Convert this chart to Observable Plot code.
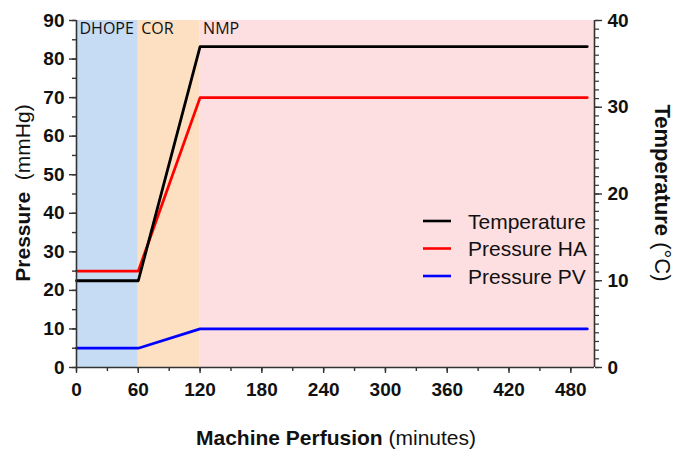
<!DOCTYPE html>
<html>
<head>
<meta charset="utf-8">
<script src="https://cdn.jsdelivr.net/npm/d3@7"></script>
<script src="https://cdn.jsdelivr.net/npm/@observablehq/plot@0.6"></script>
<style>
  html, body { margin: 0; padding: 0; background: #fff; }
</style>
</head>
<body>
<div id="chart"></div>
<script>
// ---- data ----
const time = [0, 60, 120, 496];
const temperature = [10, 10, 37, 37];   // °C (right axis)
const pressureHA = [25, 25, 70, 70];    // mmHg
const pressurePV = [5, 5, 10, 10];      // mmHg

const phaseNames = ["DHOPE", "COR", "NMP"];
const phaseStart = [0, 60, 120];
const phaseEnd = [60, 120, 503];
const phaseColors = ["#c6dcf5", "#fde0c1", "#fddee1"];

const xTicks = [0, 60, 120, 180, 240, 300, 360, 420, 480];
const yTicks = [0, 10, 20, 30, 40, 50, 60, 70, 80, 90];
const tempTicks = [0, 10, 20, 30, 40];

const seriesNames = ["Temperature", "Pressure HA", "Pressure PV"];
const seriesColors = ["#000000", "#ff0000", "#0000ff"];

const xMax = 503, yMax = 90, tMax = 40;
const t2y = t => t * yMax / tMax;

const phases = phaseNames.map((name, i) => ({name, start: phaseStart[i], end: phaseEnd[i], color: phaseColors[i]}));
const rows = time.map((t, i) => ({t, temp: t2y(temperature[i]), ha: pressureHA[i], pv: pressurePV[i]}));

const tickFont = {fontSize: 19, fontWeight: "bold", fill: "#111"};
const axisColor = "#333";

const chart = Plot.plot({
  width: 676,
  height: 450,
  marginLeft: 76,
  marginRight: 82,
  marginTop: 20,
  marginBottom: 83,
  style: {fontFamily: "'Liberation Sans', Arial, sans-serif", background: "#fff", overflow: "visible"},
  x: {domain: [0, xMax]},
  y: {domain: [0, yMax]},
  color: {type: "identity"},
  marks: [
    Plot.rect(phases, {x1: "start", x2: "end", y1: 0, y2: yMax, fill: "color"}),
    Plot.text(phases, {x: "start", y: yMax, text: "name", textAnchor: "start", lineAnchor: "top", dx: 3, dy: 2,
      fontFamily: "'Open Sans', 'Noto Sans', sans-serif", fontSize: 16, fill: "#111"}),
    Plot.line(rows, {x: "t", y: "pv", stroke: seriesColors[2], strokeWidth: 2.8}),
    Plot.line(rows, {x: "t", y: "ha", stroke: seriesColors[1], strokeWidth: 2.8}),
    Plot.line(rows, {x: "t", y: "temp", stroke: seriesColors[0], strokeWidth: 2.8}),
    // axis lines
    Plot.ruleX([0], {stroke: axisColor, strokeWidth: 1.6}),
    Plot.ruleX([xMax], {stroke: axisColor, strokeWidth: 1.6}),
    Plot.ruleY([0], {stroke: axisColor, strokeWidth: 1.6}),
    // x axis
    Plot.axisX({ticks: d3.range(0, xMax, 30), tickSize: 4, tickFormat: () => "", label: null, stroke: axisColor, strokeWidth: 1.4}),
    Plot.axisX({ticks: xTicks, tickSize: 6, tickPadding: 9, label: null, stroke: axisColor, strokeWidth: 1.4, ...tickFont}),
    // left y axis
    Plot.axisY({ticks: d3.range(0, yMax + 1, 5), tickSize: 4, tickFormat: () => "", label: null, stroke: axisColor, strokeWidth: 1.4}),
    Plot.axisY({ticks: yTicks, tickSize: 7, tickPadding: 5, label: null, stroke: axisColor, strokeWidth: 1.4, ...tickFont}),
    // right y axis (temperature)
    Plot.axisY({anchor: "right", ticks: d3.range(0, tMax + 1, 1).map(t2y), tickSize: 4, tickFormat: () => "", label: null, stroke: axisColor, strokeWidth: 1.2}),
    Plot.axisY({anchor: "right", ticks: tempTicks.map(t2y), tickSize: 7, tickPadding: 6, tickFormat: d => String(Math.round(d * tMax / yMax)), label: null, stroke: axisColor, strokeWidth: 1.4, ...tickFont})
  ]
});

document.getElementById("chart").appendChild(chart);

// ---- titles and legend ----
const svg = d3.select(chart);
const ff = "'Liberation Sans', Arial, sans-serif";

function title(x, y, rot, bold, regular, size) {
  const t = svg.append("text")
    .attr("transform", `translate(${x},${y}) rotate(${rot})`)
    .attr("text-anchor", "middle")
    .attr("dominant-baseline", "central")
    .attr("font-family", ff)
    .attr("font-size", size)
    .attr("fill", "#111");
  t.append("tspan").attr("font-weight", "bold").text(bold);
  t.append("tspan").text(regular);
}
title(22, 193, -90, "Pressure", "\u00a0 (mmHg)", 21);
title(336, 437, 0, "Machine Perfusion", " (minutes)", 21);
title(663, 193, 90, "Temperature", " (\u00b0C)", 22);

const legendY = [221, 248.5, 276];
const lg = svg.append("g");
seriesNames.forEach((name, i) => {
  lg.append("line")
    .attr("x1", 423).attr("x2", 451)
    .attr("y1", legendY[i]).attr("y2", legendY[i])
    .attr("stroke", seriesColors[i]).attr("stroke-width", 2.6);
  lg.append("text")
    .attr("x", 468).attr("y", legendY[i])
    .attr("text-anchor", "start")
    .attr("dominant-baseline", "central")
    .attr("font-family", ff).attr("font-size", 21).attr("fill", "#111")
    .text(name);
});
</script>
</body>
</html>
